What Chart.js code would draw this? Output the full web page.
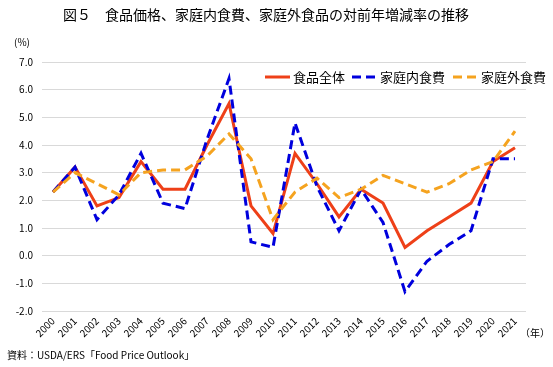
<!DOCTYPE html>
<html>
<head>
<meta charset="utf-8">
<script src="https://cdn.jsdelivr.net/npm/chart.js@4"></script>
<style>
  html, body { margin: 0; padding: 0; background: #fff; }
  #wrap { width: 553px; height: 367px; position: relative; }
</style>
</head>
<body>
<div id="wrap"><canvas id="chart"></canvas></div>
<script>
const JP_FONT = '"Noto Sans CJK JP", "Noto Sans", sans-serif';

const years = ["2000", "2001", "2002", "2003", "2004", "2005", "2006", "2007", "2008", "2009", "2010",
    "2011", "2012", "2013", "2014", "2015", "2016", "2017", "2018", "2019", "2020", "2021"];
const foodAll = [2.3, 3.2, 1.8, 2.1, 3.4, 2.4, 2.4, 4.0, 5.5, 1.8, 0.8, 3.7, 2.6, 1.4, 2.4, 1.9, 0.3, 0.9, 1.4, 1.9, 3.4, 3.9];
const foodHome = [2.3, 3.2, 1.3, 2.2, 3.7, 1.9, 1.7, 4.2, 6.4, 0.5, 0.3, 4.8, 2.5, 0.9, 2.4, 1.2, -1.3, -0.2, 0.4, 0.9, 3.5, 3.5];
const foodAway = [2.3, 3.0, 2.6, 2.2, 3.0, 3.1, 3.1, 3.6, 4.4, 3.5, 1.3, 2.3, 2.8, 2.1, 2.4, 2.9, 2.6, 2.3, 2.6, 3.1, 3.4, 4.5];
const seriesNames = ["食品全体", "家庭内食費", "家庭外食費"];

// legend sample line start positions (x) for each series
const legendX = [265, 352, 453];

const extraText = {
    id: "extraText",
    afterDraw(chart) {
        const ctx = chart.ctx;
        ctx.save();
        ctx.fillStyle = "#000";
        ctx.textBaseline = "middle";

        ctx.font = "14px " + JP_FONT;
        ctx.textAlign = "center";
        ctx.fillText("図５　食品価格、家庭内食費、家庭外食品の対前年増減率の推移", 266, 15);

        ctx.font = "10px " + JP_FONT;
        ctx.textAlign = "left";
        ctx.fillText("(%)", 14, 42);
        ctx.fillText("（年）", 520, 333);
        ctx.fillText("資料：USDA/ERS「Food Price Outlook」", 7, 355);

        // legend
        chart.data.datasets.forEach((ds, i) => {
            const x = legendX[i];
            const y = 77;
            ctx.beginPath();
            ctx.strokeStyle = ds.borderColor;
            ctx.lineWidth = ds.borderWidth;
            ctx.setLineDash(ds.borderDash || []);
            ctx.moveTo(x, y);
            ctx.lineTo(x + 25, y);
            ctx.stroke();
            ctx.setLineDash([]);
            ctx.font = "13px " + JP_FONT;
            ctx.fillText(ds.label, x + 28, y);
        });
        ctx.restore();
    }
};

new Chart(document.getElementById("chart"), {
    type: "line",
    data: {
        labels: years,
        datasets: [
            {
                label: seriesNames[0],
                data: foodAll,
                borderColor: "#EE4018",
                borderWidth: 3,
                order: 2
            },
            {
                label: seriesNames[1],
                data: foodHome,
                borderColor: "#0000DD",
                borderWidth: 3,
                borderDash: [9, 5],
                order: 1
            },
            {
                label: seriesNames[2],
                data: foodAway,
                borderColor: "#F5A31F",
                borderWidth: 3,
                borderDash: [9, 5],
                order: 0
            }
        ]
    },
    options: {
        responsive: true,
        maintainAspectRatio: false,
        animation: false,
        elements: {
            point: { radius: 0 },
            line: { tension: 0 }
        },
        layout: { padding: { left: 0, right: 27, top: 62, bottom: 0 } },
        plugins: {
            legend: { display: false },
            tooltip: { enabled: false }
        },
        scales: {
            x: {
                offset: true,
                grid: { display: false, drawTicks: false },
                border: { display: false },
                ticks: {
                    autoSkip: false,
                    maxRotation: 45,
                    minRotation: 45,
                    padding: 4,
                    color: "#000",
                    font: { size: 10, family: JP_FONT }
                },
                afterFit(scale) { scale.height = 56; }
            },
            y: {
                min: -2,
                max: 7,
                grid: { color: "#d9d9d9", drawTicks: false },
                border: { display: false },
                ticks: {
                    stepSize: 1,
                    padding: 9,
                    color: "#000",
                    font: { size: 10, family: JP_FONT },
                    callback: v => v.toFixed(1)
                },
                afterFit(scale) { scale.width = 42; }
            }
        }
    },
    plugins: [extraText]
});
</script>
</body>
</html>
